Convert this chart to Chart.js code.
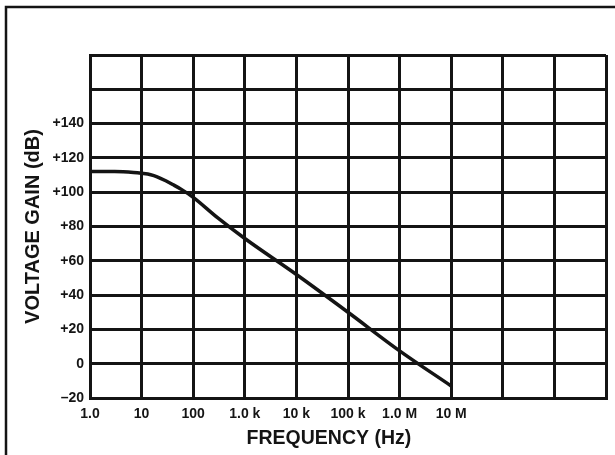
<!DOCTYPE html>
<html>
<head>
<meta charset="utf-8">
<script src="https://cdn.jsdelivr.net/npm/chart.js@4"></script>
<style>
  html, body { margin: 0; padding: 0; background: #fff; }
  canvas { display: block; }
</style>
</head>
<body>
<canvas id="gainChart" width="615" height="455"></canvas>
<script>
// Open-loop voltage gain vs frequency
const freqHz = [1, 3, 7, 10, 15, 20, 30, 40, 60, 100, 300, 1e3, 1e4, 1e5, 1e6, 1e7];
const gainDb = [112, 112, 111.5, 111, 110.2, 109, 106.5, 104.5, 101.5, 97, 85, 73, 52, 30, 7.5, -13];

// Decade grid lines and their labels (last three decades unlabeled)
const xTickValues = [1, 10, 100, 1e3, 1e4, 1e5, 1e6, 1e7, 1e8, 1e9, 1e10];
const xTickLabels = ['1.0', '10', '100', '1.0 k', '10 k', '100 k', '1.0 M', '10 M', '', '', ''];
const yTickValues = [-20, 0, 20, 40, 60, 80, 100, 120, 140, 160, 180];
const yTickLabels = ['\u201320', '0', '+20', '+40', '+60', '+80', '+100', '+120', '+140', '', ''];

const ink = '#141414';
const tickFont = { family: '"Liberation Sans", Arial, sans-serif', size: 14, weight: 'bold' };

document.addEventListener('DOMContentLoaded', function() {
    // page frame + x axis title drawn on the canvas
    const extras = {
        id: 'extras',
        afterDraw(chart) {
            const ctx = chart.ctx;
            const area = chart.chartArea;
            ctx.save();
            ctx.strokeStyle = ink;
            ctx.lineWidth = 2.5;
            ctx.beginPath();
            ctx.moveTo(6, chart.height);
            ctx.lineTo(6, 7);
            ctx.lineTo(chart.width, 7);
            ctx.stroke();

            ctx.fillStyle = ink;
            ctx.font = 'bold 19.5px "Liberation Sans", Arial, sans-serif';
            ctx.textAlign = 'center';
            ctx.textBaseline = 'middle';
            ctx.fillText('FREQUENCY (Hz)', area.left + (area.right - area.left) * 0.463, 439);
            ctx.restore();
        }
    };

    const ctx = document.getElementById('gainChart').getContext('2d');
    const gainChart = new Chart(ctx, {
        type: 'line',
        data: {
            datasets: [{
                label: 'Voltage Gain',
                data: freqHz.map((f, i) => ({ x: f, y: gainDb[i] })),
                borderColor: ink,
                borderWidth: 3.5,
                pointRadius: 0,
                fill: false,
                cubicInterpolationMode: 'monotone'
            }]
        },
        options: {
            responsive: false,
            animation: false,
            layout: {
                padding: { top: 55, right: 9, left: 0, bottom: 0 }
            },
            plugins: {
                legend: { display: false },
                tooltip: { enabled: false }
            },
            scales: {
                x: {
                    type: 'logarithmic',
                    min: 1,
                    max: 1e10,
                    afterBuildTicks: scale => {
                        scale.ticks = xTickValues.map(v => ({ value: v }));
                    },
                    afterFit: scale => { scale.height = 57; },
                    ticks: {
                        autoSkip: false,
                        maxRotation: 0,
                        padding: 8,
                        color: ink,
                        font: tickFont,
                        callback: (value, index) => xTickLabels[index]
                    },
                    grid: { color: ink, lineWidth: 3, drawTicks: false },
                    border: { color: ink, width: 3 }
                },
                y: {
                    min: -20,
                    max: 180,
                    afterBuildTicks: scale => {
                        scale.ticks = yTickValues.map(v => ({ value: v }));
                    },
                    afterFit: scale => { scale.width = 90; },
                    ticks: {
                        autoSkip: false,
                        padding: 6,
                        color: ink,
                        font: tickFont,
                        callback: (value, index) => yTickLabels[index]
                    },
                    title: {
                        display: true,
                        text: 'VOLTAGE GAIN (dB)',
                        color: ink,
                        font: { family: '"Liberation Sans", Arial, sans-serif', size: 20, weight: 'bold' },
                        padding: { top: 21, bottom: 0 }
                    },
                    grid: { color: ink, lineWidth: 3, drawTicks: false },
                    border: { color: ink, width: 3 }
                }
            }
        },
        plugins: [extras]
    });
});
</script>
</body>
</html>
